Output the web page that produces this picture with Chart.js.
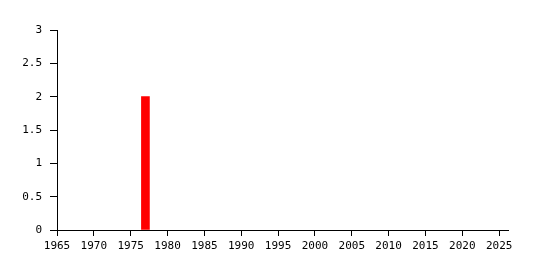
<!DOCTYPE html>
<html><head>
<script src="https://cdn.jsdelivr.net/npm/chart.js@4"></script>
<style>html,body{margin:0;padding:0;background:#fff}#c{display:block}</style>
</head><body>
<canvas id="c" width="535" height="270"></canvas>
<script>
const years = [1977];
const values = [2];
const xTicks = [1965,1970,1975,1980,1985,1990,1995,2000,2005,2010,2015,2020,2025];
const yTicks = [0,0.5,1,1.5,2,2.5,3];

Chart.defaults.font.family = "'DejaVu Sans Mono', monospace";
Chart.defaults.font.size = 11;
Chart.defaults.color = '#000';

new Chart(document.getElementById('c'), {
  type: 'bar',
  data: {
    datasets: [{
      data: years.map((y,i)=>({x:y, y:values[i]})),
      backgroundColor: '#ff0000',
      borderWidth: 0,
      barThickness: 8
    }]
  },
  options: {
    responsive: false,
    animation: false,
    layout: { padding: { top: 30, right: 27, left: 0, bottom: 0 } },
    plugins: { legend: { display: false }, tooltip: { enabled: false } },
    scales: {
      x: {
        type: 'linear',
        offset: false,
        min: 1965, max: 2026.2,
        afterBuildTicks: s => { s.ticks = xTicks.map(v=>({value:v})); },
        afterFit: s => { s.height = 40; },
        ticks: { autoSkip: false, maxRotation: 0, padding: 4, callback: v => String(v) },
        grid: { offset: false, drawOnChartArea: false, color: '#000', tickLength: 6 },
        border: { color: '#000', width: 1 }
      },
      y: {
        min: 0, max: 3,
        afterBuildTicks: s => { s.ticks = yTicks.map(v=>({value:v})); },
        afterFit: s => { s.width = 57; },
        ticks: { padding: 8, callback: v => String(v) },
        grid: { drawOnChartArea: false, color: '#000', tickLength: 7 },
        border: { color: '#000', width: 1 }
      }
    }
  }
});
</script>
</body></html>
